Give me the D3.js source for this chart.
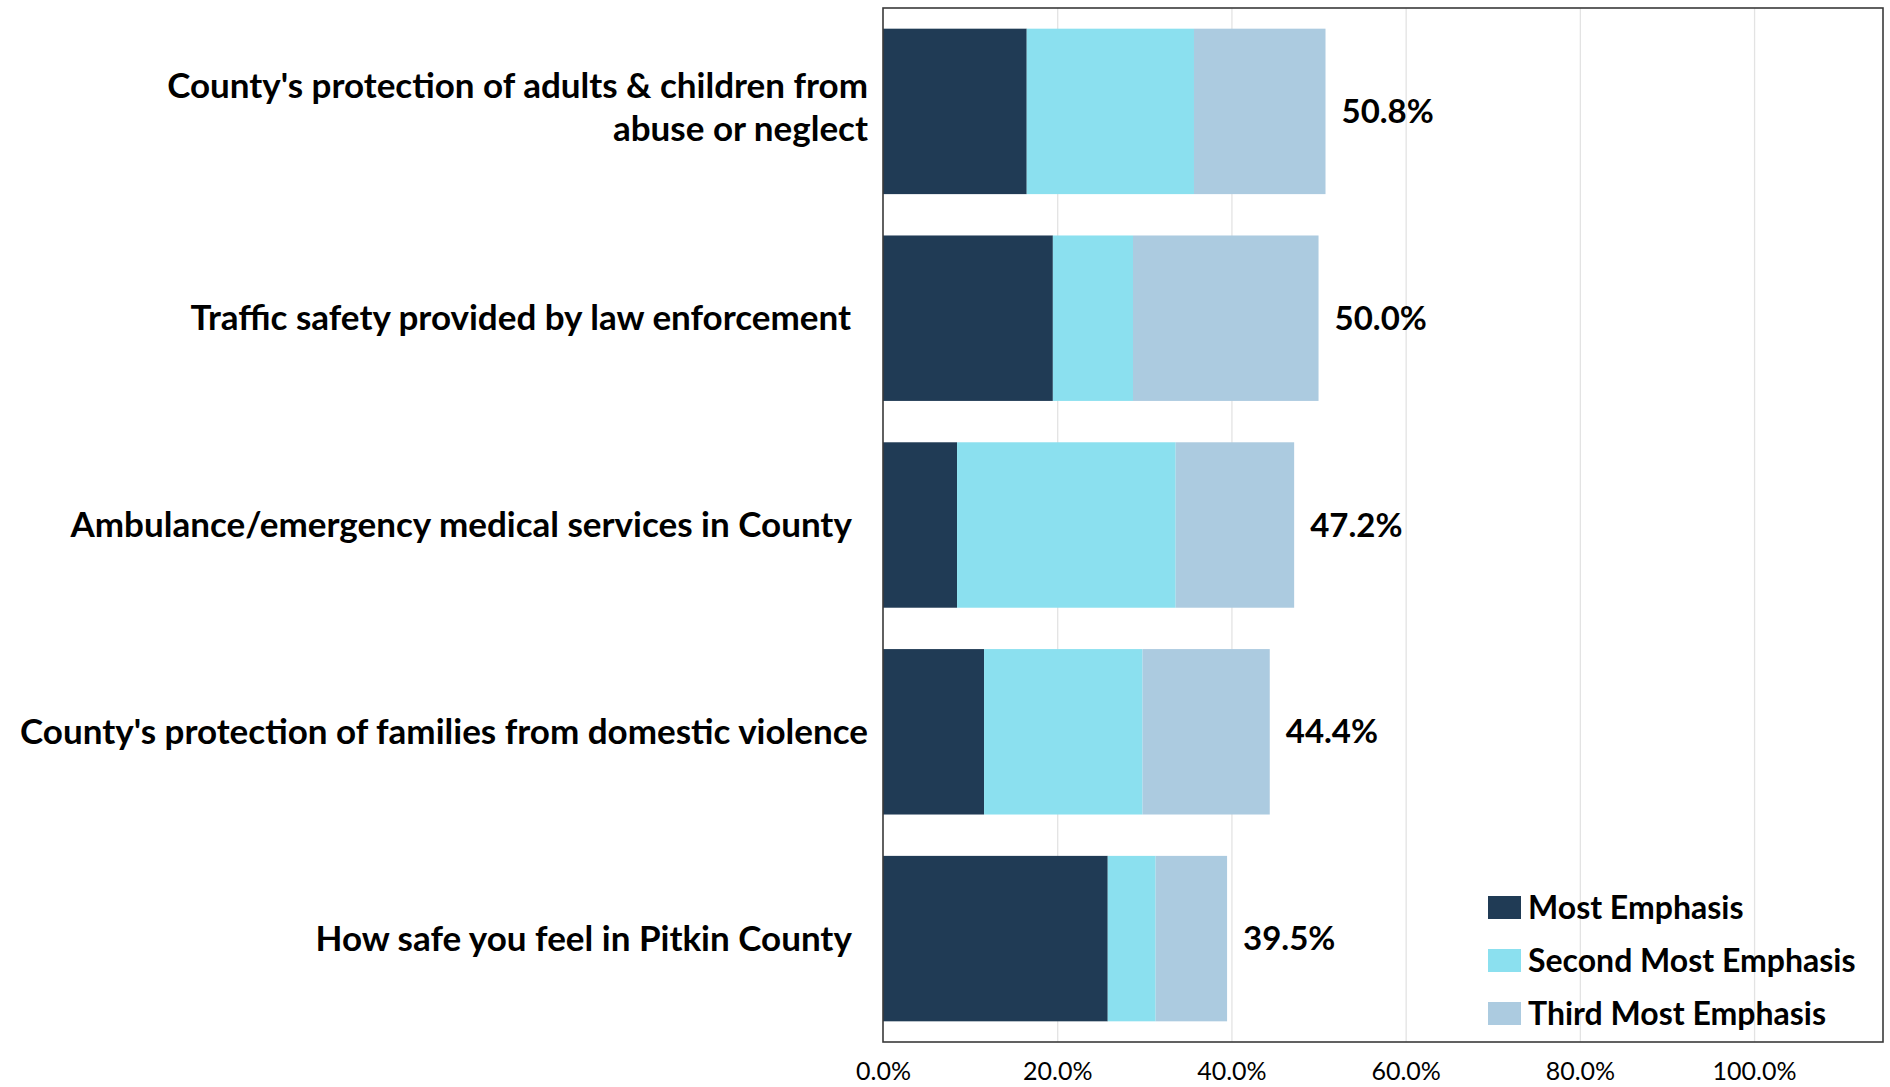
<!DOCTYPE html>
<html>
<head>
<meta charset="utf-8">
<script src="https://cdn.jsdelivr.net/npm/d3@7/dist/d3.min.js"></script>
<style>
  html, body { margin: 0; padding: 0; background: #ffffff; }
  svg { display: block; }
  text { font-family: Lato, "Open Sans", sans-serif; fill: #000; }
  .cat { white-space: pre; }
</style>
</head>
<body>
<svg id="chart" width="1890" height="1087"></svg>
<script>
// Survey items (top to bottom); "\n" marks a line break in the label
const categories = [
  "County's protection of adults & children from\nabuse or neglect",
  "Traffic safety provided by law enforcement  ",
  "Ambulance/emergency medical services in County  ",
  "County's protection of families from domestic violence",
  "How safe you feel in Pitkin County  "
];

// Share of respondents (fractions) per emphasis level
const mostEmphasis   = [0.165, 0.195, 0.085, 0.116, 0.258];
const secondEmphasis = [0.192, 0.092, 0.251, 0.182, 0.055];
const thirdEmphasis  = [0.151, 0.213, 0.136, 0.146, 0.082];

// Totals shown next to each bar
const totals = [0.508, 0.500, 0.472, 0.444, 0.395];

const seriesNames = ["Most Emphasis", "Second Most Emphasis", "Third Most Emphasis"];
const seriesColors = ["#203b55", "#8be0ef", "#accbe0"];

const xTicks = [0, 0.2, 0.4, 0.6, 0.8, 1.0];
const xMax = 1.148;

const svg = d3.select("#chart");
const plot = { left: 883, top: 8, right: 1883, bottom: 1042 };

const x = d3.scaleLinear().domain([0, xMax]).range([plot.left, plot.right]);
const y = d3.scaleBand().domain(d3.range(categories.length))
  .range([plot.top, plot.bottom]).paddingInner(0.2).paddingOuter(0.1);

// Vertical gridlines
svg.append("g")
  .attr("transform", `translate(0,${plot.bottom})`)
  .call(d3.axisBottom(x).tickValues(xTicks.slice(1)).tickSize(-(plot.bottom - plot.top)).tickFormat(""))
  .call(g => g.select(".domain").remove())
  .call(g => g.selectAll("line").attr("stroke", "#e3e3e3").attr("stroke-width", 1.3));

// Stacked bars
const rows = categories.map((c, i) => ({ i, most: mostEmphasis[i], second: secondEmphasis[i], third: thirdEmphasis[i] }));
const stack = d3.stack().keys(["most", "second", "third"]);
const layers = stack(rows);

svg.append("g").selectAll("g")
  .data(layers)
  .join("g")
  .attr("fill", (d, k) => seriesColors[k])
  .selectAll("rect")
  .data(d => d)
  .join("rect")
  .attr("x", d => x(d[0]))
  .attr("width", d => x(d[1]) - x(d[0]))
  .attr("y", d => y(d.data.i))
  .attr("height", y.bandwidth());

// Plot frame
svg.append("rect")
  .attr("x", plot.left).attr("y", plot.top)
  .attr("width", plot.right - plot.left).attr("height", plot.bottom - plot.top)
  .attr("fill", "none").attr("stroke", "#3a3a3a").attr("stroke-width", 1.6);

// Total labels
svg.append("g").selectAll("text")
  .data(totals)
  .join("text")
  .attr("x", (d, i) => x(mostEmphasis[i] + secondEmphasis[i] + thirdEmphasis[i]) + 16)
  .attr("y", (d, i) => y(i) + y.bandwidth() / 2)
  .attr("dy", "0.35em")
  .attr("font-size", 33)
  .attr("font-weight", 700)
  .text(d => d3.format(".1%")(d));

// Category labels
const catG = svg.append("g");
categories.forEach((c, i) => {
  const lines = c.split("\n");
  const lh = 43;
  const cy = y(i) + y.bandwidth() / 2 - (lines.length > 1 ? 4 : 0);
  const t = catG.append("text")
    .attr("class", "cat")
    .attr("text-anchor", "end")
    .attr("font-size", 35)
    .attr("font-weight", 700);
  lines.forEach((ln, j) => {
    t.append("tspan")
      .attr("x", plot.left - 15)
      .attr("y", cy + (j - (lines.length - 1) / 2) * lh)
      .attr("dy", "0.35em")
      .text(ln);
  });
});

// X axis tick labels
svg.append("g")
  .attr("transform", `translate(0,${plot.bottom})`)
  .call(d3.axisBottom(x).tickValues(xTicks).tickSize(0).tickPadding(20).tickFormat(d3.format(".1%")))
  .call(g => g.select(".domain").remove())
  .call(g => g.selectAll("text").attr("font-size", 25).attr("font-family", "Lato, sans-serif").attr("fill", "#000"));

// Legend
const legend = svg.append("g");
seriesNames.forEach((name, k) => {
  const ly = 896 + k * 53;
  legend.append("rect")
    .attr("x", 1488).attr("y", ly).attr("width", 33).attr("height", 23)
    .attr("fill", seriesColors[k]);
  legend.append("text")
    .attr("x", 1528).attr("y", ly + 11.5).attr("dy", "0.35em")
    .attr("font-size", 32).attr("font-weight", 700)
    .text(name);
});
</script>
</body>
</html>
